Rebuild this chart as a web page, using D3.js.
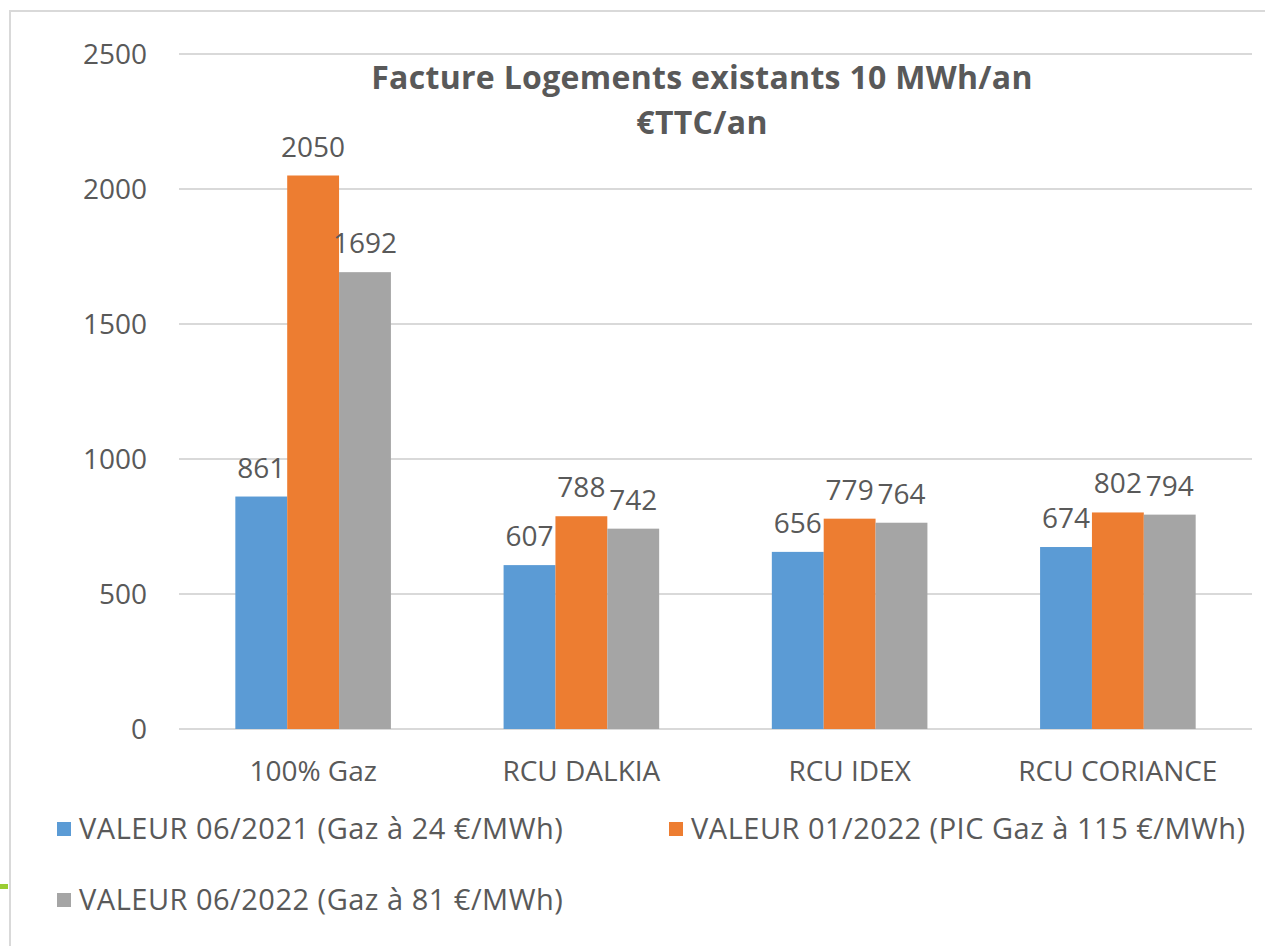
<!DOCTYPE html>
<meta charset="utf-8">
<head>
<script src="https://d3js.org/d3.v7.min.js"></script>
<style>
  body { margin: 0; background: #fff; font-family: "Open Sans", "Liberation Sans", sans-serif; }
  svg text { fill: #595959; }
</style>
</head>
<body>
<svg></svg>
<script>
// data
var categories = ["100% Gaz", "RCU DALKIA", "RCU IDEX", "RCU CORIANCE"];
var seriesNames = ["VALEUR 06/2021 (Gaz à 24 €/MWh)", "VALEUR 01/2022 (PIC Gaz à 115 €/MWh)", "VALEUR 06/2022 (Gaz à 81 €/MWh)"];
var valeur062021 = [861, 607, 656, 674];
var valeur012022 = [2050, 788, 779, 802];
var valeur062022 = [1692, 742, 764, 794];
var yTicks = [0, 500, 1000, 1500, 2000, 2500];
var colors = ["#5B9BD5", "#ED7D31", "#A5A5A5"];

var width = 1265, height = 946;
var plotLeft = 179, plotRight = 1252, plotTop = 54, plotBottom = 729;

var svg = d3.select("svg").attr("width", width).attr("height", height);

// frame
svg.append("path")
  .attr("d", "M10,946V11H1265")
  .attr("fill", "none")
  .attr("stroke", "#d9d9d9")
  .attr("stroke-width", 2);

// bit of logo cut on the left edge
svg.append("rect").attr("x", 0).attr("y", 884).attr("width", 8).attr("height", 5).attr("fill", "#9acd32");

var y = d3.scaleLinear().domain([0, 2500]).range([plotBottom, plotTop]);
var x0 = d3.scaleBand().domain(categories).range([plotLeft, plotRight]).paddingInner(0.42).paddingOuter(0.21);
var x1 = d3.scaleBand().domain([0, 1, 2]).range([0, x0.bandwidth()]);

// gridlines
svg.append("g").selectAll("line").data(yTicks).enter().append("line")
  .attr("x1", plotLeft).attr("x2", plotRight)
  .attr("y1", function(d) { return y(d); }).attr("y2", function(d) { return y(d); })
  .attr("stroke", "#d9d9d9").attr("stroke-width", 2);

// y axis labels
svg.append("g").selectAll("text").data(yTicks).enter().append("text")
  .attr("x", 147).attr("y", function(d) { return y(d); })
  .attr("dy", "0.35em")
  .attr("text-anchor", "end")
  .style("font-size", "28px")
  .text(function(d) { return d; });

var series = [valeur062021, valeur012022, valeur062022];
var rows = [];
categories.forEach(function(c, i) {
  series.forEach(function(s, j) { rows.push({cat: c, s: j, v: s[i]}); });
});

svg.append("g").selectAll("rect").data(rows).enter().append("rect")
  .attr("x", function(d) { return x0(d.cat) + x1(d.s); })
  .attr("width", x1.bandwidth())
  .attr("y", function(d) { return y(d.v); })
  .attr("height", function(d) { return plotBottom - y(d.v); })
  .attr("fill", function(d) { return colors[d.s]; });

// value labels
svg.append("g").selectAll("text").data(rows).enter().append("text")
  .attr("x", function(d) { return x0(d.cat) + x1(d.s) + x1.bandwidth() / 2; })
  .attr("y", function(d) { return y(d.v) - 19; })
  .attr("text-anchor", "middle")
  .style("font-size", "28px")
  .text(function(d) { return d.v; });

// category labels
svg.append("g").selectAll("text").data(categories).enter().append("text")
  .attr("x", function(d) { return x0(d) + x0.bandwidth() / 2; })
  .attr("y", 781)
  .attr("text-anchor", "middle")
  .style("font-size", "28px")
  .text(function(d) { return d; });

// title
var title = svg.append("text").attr("text-anchor", "middle")
  .style("font-size", "32px").style("font-weight", "bold").style("letter-spacing", "0.3px");
title.append("tspan").attr("x", 702).attr("y", 89).text("Facture Logements existants 10 MWh/an");
title.append("tspan").attr("x", 702).attr("y", 134).text("€TTC/an");

// legend
var legendPos = [[57, 829], [669, 829], [57, 900]];
var legend = svg.append("g").selectAll("g").data(seriesNames).enter().append("g")
  .attr("transform", function(d, i) { return "translate(" + legendPos[i][0] + "," + legendPos[i][1] + ")"; });
legend.append("rect")
  .attr("x", 0).attr("y", -7).attr("width", 14).attr("height", 14)
  .attr("fill", function(d, i) { return colors[i]; });
legend.append("text")
  .attr("x", 22).attr("dy", "0.35em")
  .style("font-size", "29px").style("letter-spacing", "0.5px")
  .text(function(d) { return d; });
</script>
</body>
</html>
